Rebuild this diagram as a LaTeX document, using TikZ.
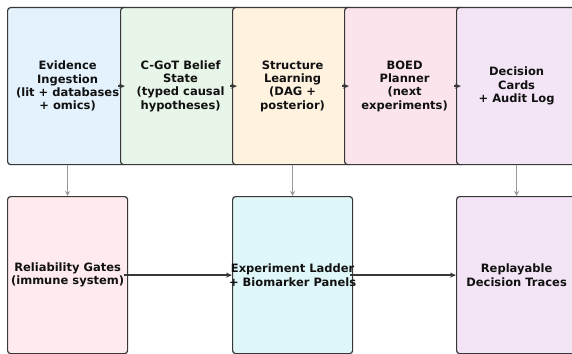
\documentclass[tikz,border=0pt]{standalone}
\usepackage{fontspec}
\setmainfont{DejaVu Sans}
\usetikzlibrary{arrows.meta}
\definecolor{cA}{HTML}{E3F2FD}
\definecolor{cB}{HTML}{E8F5E9}
\definecolor{cC}{HTML}{FFF3E0}
\definecolor{cD}{HTML}{FCE4EC}
\definecolor{cE}{HTML}{F3E5F5}
\definecolor{cF}{HTML}{FFEBEE}
\definecolor{cG}{HTML}{E0F7FA}
\definecolor{edge}{HTML}{383838}
\definecolor{txt}{HTML}{111111}
\definecolor{grayarrow}{HTML}{9A9A9A}
\begin{document}
\begin{tikzpicture}[x=1pt,y=-1pt,
  box/.style={draw=edge, line width=1.2pt, rounded corners=3pt, minimum width=120pt, minimum height=157pt, inner sep=0pt, anchor=north west},
  lbl/.style={font=\fontsize{11.5}{13.4}\selectfont\bfseries, align=center, text=txt, inner sep=0pt},
  flow/.style={draw=edge, line width=1.5pt, -{Stealth[length=6pt,width=5pt]}},
  down/.style={draw=grayarrow, line width=1.2pt, -{Stealth[length=5pt,width=5pt]}}]
\useasboundingbox (0,0) rectangle (572,353);
\clip (0,0) rectangle (572,353);
% top row
\node[box, fill=cA] (b1) at (7,7) {};
\node[box, fill=cB] (b2) at (120,7) {};
\node[box, fill=cC] (b3) at (232,7) {};
\node[box, fill=cD] (b4) at (344,7) {};
\node[box, fill=cE] (b5) at (456,7) {};
% bottom row
\node[box, fill=cF] (r1) at (7,196) {};
\node[box, fill=cG] (r2) at (232,196) {};
\node[box, fill=cE] (r3) at (456,196) {};
% labels
\node[lbl] (t1) at (b1.center) {Evidence\\Ingestion\\(lit + databases\\+ omics)};
\node[lbl] (t2) at (b2.center) {C-GoT Belief\\State\\(typed causal\\hypotheses)};
\node[lbl] (t3) at (b3.center) {Structure\\Learning\\(DAG +\\posterior)};
\node[lbl] (t4) at (b4.center) {BOED\\Planner\\(next\\experiments)};
\node[lbl] (t5) at (b5.center) {Decision\\Cards\\+ Audit Log};
\node[lbl] (u1) at (r1.center) {Reliability Gates\\(immune system)};
\node[lbl] (u2) at (r2.center) {Experiment Ladder\\+ Biomarker Panels};
\node[lbl] (u3) at (r3.center) {Replayable\\Decision Traces};
% top arrows
\draw[flow] ([xshift=-2pt]b2.west) -- ([xshift=5pt]b2.west);
\draw[flow] ([xshift=-2pt]b3.west) -- ([xshift=5pt]b3.west);
\draw[flow] ([xshift=-2pt]b4.west) -- ([xshift=5pt]b4.west);
\draw[flow] ([xshift=-2pt]b5.west) -- ([xshift=5pt]b5.west);
% down arrows
\draw[down] (b1.south) -- (r1.north);
\draw[down] (b3.south) -- (r2.north);
\draw[down] (b5.south) -- (r3.north);
% bottom arrows
\draw[flow] ([xshift=-4pt]r1.east) -- (r2.west);
\draw[flow] ([xshift=-3pt]r2.east) -- (r3.west);
\end{tikzpicture}
\end{document}
